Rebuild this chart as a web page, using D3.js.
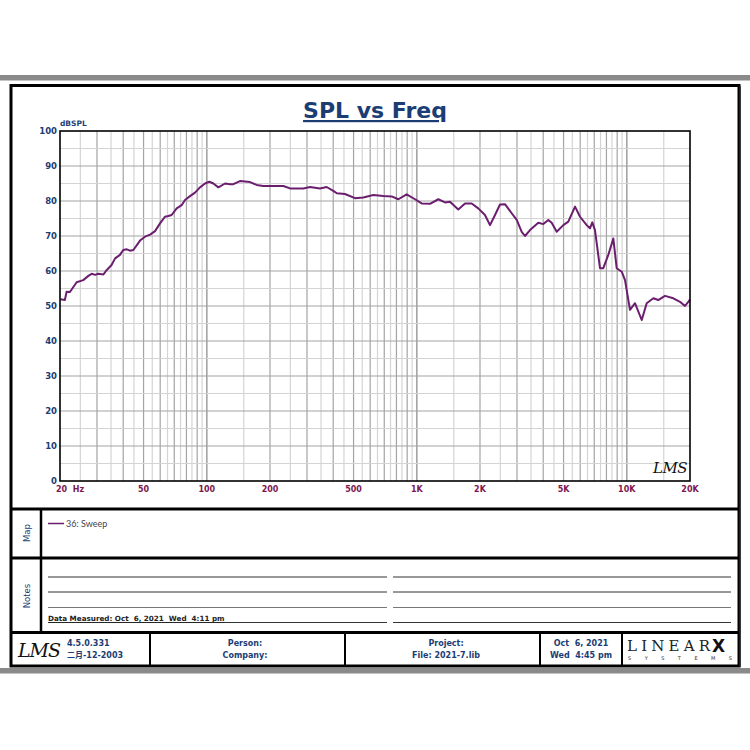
<!DOCTYPE html>
<html>
<head>
<meta charset="utf-8">
<script src="https://cdn.jsdelivr.net/npm/d3@7"></script>
<style>
  html, body { margin: 0; padding: 0; background: #fff; }
  svg { display: block; }
</style>
</head>
<body>
<svg id="chart" width="750" height="750"></svg>
<script>
// ---- Data ----
const freqHz = [20.1, 21.1, 21.5, 22.3, 23.2, 24.0, 25.8, 27.3, 28.3, 29.4, 30.4, 32.2, 33.4, 35.2, 36.6, 38.6,
  40.0, 41.6, 43.1, 44.7, 48.1, 50.8, 53.7, 56.7, 59.9, 63.2, 65.6, 68.0, 71.9, 75.9, 78.8, 83.2, 87.9,
  92.8, 98.1, 102.8, 107.5, 113.5, 122.2, 129.0, 133.8, 143.9, 160.6, 172.8, 185.9, 207.6, 231.6, 249.1,
  288.2, 310.2, 346.1, 372.3, 400.4, 416, 455, 508, 556, 621, 693, 759, 817, 895, 981, 1055, 1156, 1266,
  1363, 1439, 1576, 1697, 1826, 1962, 2112, 2232, 2358, 2490, 2630, 2831, 2992, 3160, 3276, 3460, 3790,
  4004, 4230, 4390, 4638, 4986, 5268, 5670, 5990, 6442, 6680, 6852, 7056, 7456, 7730, 8166, 8626, 8952,
  9460, 9808, 10360, 10940, 11780, 12440, 13380, 14120, 15200, 16660, 17920, 18920, 19630, 20000];
const splDb = [51.9, 51.7, 54.1, 54.0, 55.5, 56.8, 57.4, 58.6, 59.2, 58.9, 59.2, 59.0, 60.3, 61.7, 63.6, 64.6,
  66.0, 66.2, 65.8, 66.0, 68.7, 69.8, 70.4, 71.4, 73.6, 75.5, 75.7, 76.0, 77.9, 78.8, 80.3, 81.4, 82.4,
  83.9, 85.0, 85.5, 85.0, 83.9, 85.0, 84.8, 84.8, 85.7, 85.4, 84.6, 84.3, 84.3, 84.3, 83.6,
  83.6, 84.0, 83.6, 84.0, 82.9, 82.2, 82.0, 80.8, 81.0, 81.7, 81.4, 81.3, 80.5, 81.9, 80.5, 79.3, 79.2, 80.5,
  79.6, 79.8, 77.6, 79.3, 79.3, 77.9, 76.0, 73.1, 76.0, 79.0, 79.1, 76.5, 74.6, 71.2, 70.0, 71.7, 73.8,
  73.4, 74.6, 73.8, 71.2, 73.1, 74.1, 78.4, 75.5, 73.1, 72.2, 73.9, 71.7, 60.8, 60.8, 64.6, 69.3, 60.8,
  59.8, 57.4, 48.9, 50.8, 46.0, 50.8, 52.2, 51.7, 52.9, 52.2, 51.2, 50.0, 51.2, 51.8];
const yTickValues = [0, 10, 20, 30, 40, 50, 60, 70, 80, 90, 100];
const xTickValues = [20, 50, 100, 200, 500, 1000, 2000, 5000, 10000, 20000];
const xTickLabels = ["20  Hz", "50", "100", "200", "500", "1K", "2K", "5K", "10K", "20K"];
const seriesName = "36: Sweep";
const titleText = "SPL vs Freq";
const yUnit = "dBSPL";
const footerVersion = ["4.5.0.331", "二月-12-2003"];
const footerPerson = ["Person:", "Company:"];
const footerProject = ["Project:", "File: 2021-7.lib"];
const footerDate = ["Oct  6, 2021", "Wed  4:45 pm"];
const measuredText = "Data Measured: Oct  6, 2021  Wed  4:11 pm";

// ---- Drawing ----
const svg = d3.select("#chart");
const navy = "#1b3d74", maroon = "#7d1650", lineColor = "#6b1e6e";
const font = "'DejaVu Sans', Verdana, sans-serif";

// page rules
svg.append("rect").attr("x", 0).attr("y", 75).attr("width", 750).attr("height", 5.5).attr("fill", "#8a8a8a");
svg.append("rect").attr("x", 0).attr("y", 668).attr("width", 750).attr("height", 5.5).attr("fill", "#8a8a8a");

// outer frame
svg.append("rect").attr("x", 11).attr("y", 85.5).attr("width", 728).attr("height", 580.5)
  .attr("fill", "none").attr("stroke", "#000").attr("stroke-width", 3);
svg.append("line").attr("x1", 740).attr("x2", 740).attr("y1", 86).attr("y2", 667).attr("stroke", "#222").attr("stroke-width", 1.5);

// section dividers
const hline = (y, x1, x2, w) => svg.append("line").attr("x1", x1).attr("x2", x2).attr("y1", y).attr("y2", y)
  .attr("stroke", "#000").attr("stroke-width", w);
hline(509, 11, 739, 3);
hline(558, 11, 739, 3);
hline(632.5, 11, 739, 3);
svg.append("line").attr("x1", 41).attr("x2", 41).attr("y1", 509).attr("y2", 632.5).attr("stroke", "#000").attr("stroke-width", 2.5);
[150, 345, 540, 622].forEach(x => svg.append("line").attr("x1", x).attr("x2", x).attr("y1", 632.5).attr("y2", 666)
  .attr("stroke", "#000").attr("stroke-width", 2));

// title
svg.append("text").attr("x", 375).attr("y", 118).attr("text-anchor", "middle")
  .attr("font-family", font).attr("font-weight", "bold").attr("font-size", 22).attr("fill", navy)
  .attr("text-decoration", "underline").text(titleText);

// scales
const x = d3.scaleLog().domain([20, 20000]).range([60, 690]);
const y = d3.scaleLinear().domain([0, 100]).range([481, 131]);

// grid
const g = svg.append("g");
const vlines = [];
[10, 100, 1000, 10000].forEach(d => {
  for (let m = 1; m <= 10; m += 0.5) {
    const f = m * d;
    if (f > 20 && f < 20000) vlines.push({ f, major: Number.isInteger(m) });
  }
});
g.selectAll(".vg").data(vlines).join("line")
  .attr("x1", d => x(d.f)).attr("x2", d => x(d.f)).attr("y1", y(0)).attr("y2", y(100))
  .attr("stroke", d => d.major ? "#a4a4a4" : "#d4d4d4").attr("stroke-width", 1.2);
const hvals = d3.range(5, 100, 5);
g.selectAll(".hg").data(hvals).join("line")
  .attr("x1", 60).attr("x2", 690).attr("y1", d => y(d)).attr("y2", d => y(d))
  .attr("stroke", d => d % 10 === 0 ? "#a4a4a4" : "#d4d4d4").attr("stroke-width", 1.2);

// curve
const pts = freqHz.map((f, i) => ({ f, v: splDb[i] }));
svg.append("path").datum(pts)
  .attr("d", d3.line().x(d => x(d.f)).y(d => y(d.v)))
  .attr("fill", "none").attr("stroke", lineColor).attr("stroke-width", 2).attr("stroke-linejoin", "round");

// plot border
svg.append("rect").attr("x", 60).attr("y", 131).attr("width", 630).attr("height", 350)
  .attr("fill", "none").attr("stroke", "#000").attr("stroke-width", 1.6);

// y axis labels
svg.selectAll(".yl").data(yTickValues).join("text")
  .attr("x", 57).attr("y", d => y(d)).attr("dy", "0.36em").attr("text-anchor", "end")
  .attr("font-family", font).attr("font-weight", "bold").attr("font-size", 8.5).attr("fill", navy)
  .text(d => d);
svg.append("text").attr("x", 60).attr("y", 126).attr("font-family", font).attr("font-weight", "bold")
  .attr("font-size", 7.5).attr("fill", navy).text(yUnit);

// x axis labels
svg.selectAll(".xl").data(xTickValues).join("text")
  .attr("x", (d, i) => i === 0 ? 56 : x(d)).attr("y", 492)
  .attr("text-anchor", (d, i) => i === 0 ? "start" : "middle")
  .attr("font-family", font).attr("font-weight", "bold").attr("font-size", 8).attr("fill", maroon)
  .style("white-space", "pre")
  .text((d, i) => xTickLabels[i]);

// LMS mark in plot
svg.append("text").attr("x", 653).attr("y", 473).attr("font-family", "'DejaVu Serif', serif").attr("font-style", "italic")
  .attr("font-size", 15).attr("fill", "#111").attr("letter-spacing", -0.5).text("LMS");

// map section
svg.append("text").attr("transform", "translate(30,533) rotate(-90)").attr("text-anchor", "middle")
  .attr("font-family", font).attr("font-size", 8.5).attr("fill", navy).text("Map");
svg.append("line").attr("x1", 48).attr("x2", 64).attr("y1", 523.5).attr("y2", 523.5).attr("stroke", lineColor).attr("stroke-width", 1.5);
svg.append("text").attr("x", 66).attr("y", 526.5).attr("font-family", "Lato, 'DejaVu Sans', sans-serif").attr("font-size", 9)
  .attr("fill", "#444").text(seriesName);

// notes section
svg.append("text").attr("transform", "translate(30,596) rotate(-90)").attr("text-anchor", "middle")
  .attr("font-family", font).attr("font-size", 8.5).attr("fill", navy).text("Notes");
[577, 592, 607.5, 622.5].forEach((yy, i) => {
  const c = i === 2 ? "#777" : "#333";
  svg.append("line").attr("x1", 48).attr("x2", 387).attr("y1", yy).attr("y2", yy).attr("stroke", c).attr("stroke-width", 1);
  svg.append("line").attr("x1", 393).attr("x2", 731).attr("y1", yy).attr("y2", yy).attr("stroke", c).attr("stroke-width", 1);
});
svg.append("text").attr("x", 48).attr("y", 621).attr("font-family", font).attr("font-weight", "bold")
  .attr("font-size", 7.2).attr("fill", "#222").attr("text-decoration", "underline")
  .style("white-space", "pre").text(measuredText);

// footer
const footText = (lines, cx, anchor) => lines.forEach((t, i) => svg.append("text")
  .attr("x", cx).attr("y", 646 + i * 12).attr("text-anchor", anchor)
  .attr("font-family", "'DejaVu Sans', 'Noto Sans CJK SC', sans-serif").attr("font-weight", "bold")
  .attr("font-size", 8).attr("fill", navy).style("white-space", "pre").text(t));
footText(footerVersion, 67, "start");
footText(footerPerson, 245, "middle");
footText(footerProject, 446, "middle");
footText(footerDate, 581, "middle");

// LMS footer logo
svg.append("text").attr("x", 18).attr("y", 657).attr("font-family", "'DejaVu Serif', serif").attr("font-style", "italic")
  .attr("font-size", 19).attr("fill", "#111").attr("letter-spacing", -1).text("LMS");

// LINEAR X logo
svg.append("text").attr("x", 627).attr("y", 651).attr("font-family", "'DejaVu Serif', 'Liberation Serif', serif")
  .attr("font-size", 15).attr("fill", "#222").attr("textLength", 83).attr("lengthAdjust", "spacing").text("LINEAR");
svg.append("text").attr("x", 712).attr("y", 651.5).attr("font-family", "'DejaVu Sans', sans-serif").attr("font-weight", "bold")
  .attr("font-size", 17).attr("fill", "#111").text("X");
svg.append("text").attr("x", 628).attr("y", 660).attr("font-family", "'DejaVu Sans', sans-serif")
  .attr("font-size", 5).attr("fill", "#333").attr("textLength", 104).attr("lengthAdjust", "spacing").text("SYSTEMS");
</script>
</body>
</html>
